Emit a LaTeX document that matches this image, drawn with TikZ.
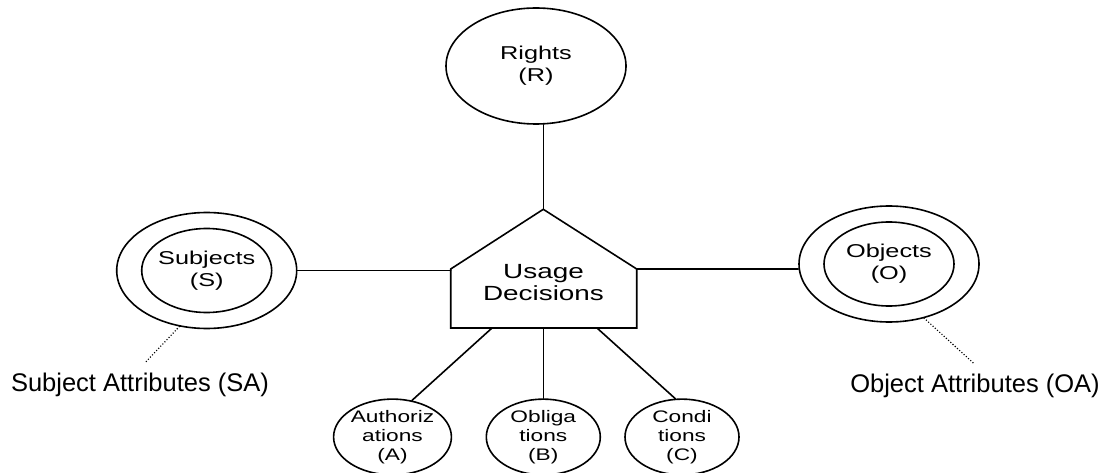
\documentclass[tikz,border=0pt]{standalone}
\usepackage{fontspec}
\setmainfont{Liberation Sans}[FakeStretch=1.36]
\newfontfamily\attrfont{Liberation Sans}
\usepackage{tikz}
\usetikzlibrary{shapes.geometric,calc}

\begin{document}
\begin{tikzpicture}[x=1pt,y=-1pt,line width=1.6pt,line cap=round,
  bigell/.style={draw,ellipse,inner sep=0pt,minimum width=180pt,minimum height=116pt,align=center,font=\fontsize{18.6}{22}\selectfont},
  innell/.style={draw,ellipse,inner sep=0pt,minimum width=130pt,minimum height=84pt},
  smallell/.style={draw,ellipse,inner sep=0pt,minimum width=114pt,minimum height=74pt,align=center,font=\fontsize{16.7}{19}\selectfont},
  attr/.style={anchor=base,inner sep=0pt,font=\attrfont\fontsize{25.5}{28}\selectfont},
  attrline/.style={line width=1.6pt,dash pattern=on 0pt off 3pt}]
\useasboundingbox (0,0) rectangle (1105,473);

% rights on top
\node[bigell] (rights) at (536,66) {Rights\\(R)};

% usage decisions (house shape)
\coordinate (ud-apex) at (543.3,209.3);
\coordinate (ud-l) at (450.7,269);
\coordinate (ud-r) at (636.7,269);
\coordinate (ud-bl) at (450.7,328);
\coordinate (ud-br) at (636.7,328);
\draw (ud-apex) -- (ud-r) -- (ud-br) -- (ud-bl) -- (ud-l) -- cycle;
\node[align=center,font=\fontsize{20.5}{21.6}\selectfont] (ud) at (543.5,282.5) {Usage\\Decisions};
\coordinate (ud-b1) at (492,328);
\coordinate (ud-b2) at (543.3,328);
\coordinate (ud-b3) at (597,328);

% subjects and objects
\node[bigell] (so) at (206.7,270.5) {Subjects\\(S)};
\node[innell] (si) at (so) {};
\node[bigell] (oo) at (889,264) {Objects\\(O)};
\node[innell] (oi) at (oo) {};

% attributes
\node[attr] (sal) at (140,391) {Subject Attributes (SA)};
\node[attr] (oal) at (975,392) {Object Attributes (OA)};

% decision factors
\node[smallell] (auth) at (392.5,437) {Authoriz\\ations\\(A)};
\node[smallell] (obl) at (543.3,437) {Obliga\\tions\\(B)};
\node[smallell] (cond) at (682,437) {Condi\\tions\\(C)};

\draw (rights.south -| ud-apex) -- (ud-apex);
\draw (so.east) -- (so.east -| ud-l);
\draw (ud-r) -- (ud-r -| oo.west);
\draw (ud-b1) -- (auth.62);
\draw (ud-b2) -- (obl.north);
\draw (ud-b3) -- (cond.100);
\draw[attrline] (so.244) -- ($(sal.north)+(6,-10)$);
\draw[attrline] (oo.303) -- ($(oal.north)+(-2,-10)$);
\end{tikzpicture}
\end{document}
